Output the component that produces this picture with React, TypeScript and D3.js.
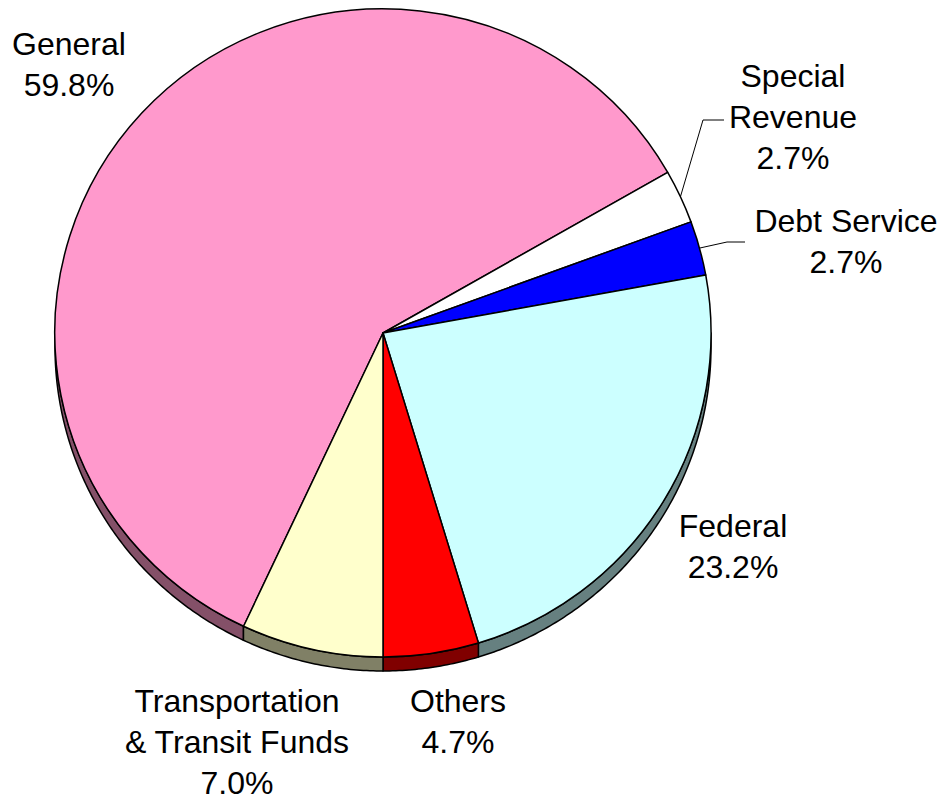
import React, { useRef, useEffect } from 'react';
import * as d3 from 'd3';

// fund shares, in the order they run clockwise from the General slice
const funds = ['General', 'Special Revenue', 'Debt Service', 'Federal', 'Others', 'Transportation & Transit Funds'];
const shares = [59.8, 2.7, 2.7, 23.2, 4.7, 7.0];
const labelLines = [
  ['General', '59.8%'],
  ['Special', 'Revenue', '2.7%'],
  ['Debt Service', '2.7%'],
  ['Federal', '23.2%'],
  ['Others', '4.7%'],
  ['Transportation', '& Transit Funds', '7.0%'],
];
const topColors = ['#FF99CC', '#FFFFFF', '#0000FF', '#CCFFFF', '#FF0000', '#FFFFCC'];
const sideColors = ['#845068', '#808080', '#000080', '#668080', '#800000', '#808066'];

const PieChart3D = () => {
  const svgRef = useRef<SVGSVGElement>(null);

  useEffect(() => {
    const svg = d3.select(svgRef.current);
    svg.selectAll('*').remove();

    const width = 950;
    const height = 799;
    const cx = 383;
    const cy = 333;
    const rx = 328;
    const ry = 324;
    const depth = 14;
    const fontSize = 32;
    const lineH = 41;

    svg.attr('width', width).attr('height', height);

    const total = d3.sum(shares);
    // the last slice (Transportation) ends straight down, so General starts after it
    const start = Math.PI + (2 * Math.PI * shares[shares.length - 1]) / total;
    const pie = d3.pie<number>().sort(null).value(d => d).startAngle(start).endAngle(start + 2 * Math.PI);
    const arcs = pie(shares);

    const px = (t: number) => cx + rx * Math.sin(t);
    const py = (t: number, dy = 0) => cy - ry * Math.cos(t) + dy;

    // side walls (only the front, lower half is visible)
    const sides = svg.append('g');
    arcs.forEach((a, i) => {
      for (let k = 0; k < 2; k++) {
        const lo = Math.max(a.startAngle, Math.PI / 2 + 2 * Math.PI * k);
        const hi = Math.min(a.endAngle, (3 * Math.PI) / 2 + 2 * Math.PI * k);
        if (hi <= lo) continue;
        const n = Math.max(2, Math.ceil((hi - lo) / 0.01));
        const ts = d3.range(n + 1).map(j => lo + ((hi - lo) * j) / n);
        const p = d3.path();
        ts.forEach((t, j) => (j === 0 ? p.moveTo(px(t), py(t)) : p.lineTo(px(t), py(t))));
        ts.slice().reverse().forEach(t => p.lineTo(px(t), py(t, depth)));
        p.closePath();
        sides.append('path')
          .attr('d', p.toString())
          .attr('fill', sideColors[i])
          .attr('stroke', '#000')
          .attr('stroke-width', 1.5)
          .attr('stroke-linejoin', 'round');
      }
    });

    // top faces
    const arc = d3.arc<d3.PieArcDatum<number>>().innerRadius(0).outerRadius(1);
    svg.append('g')
      .attr('transform', `translate(${cx},${cy}) scale(${rx},${ry})`)
      .selectAll('path')
      .data(arcs)
      .join('path')
      .attr('d', d => arc(d))
      .attr('fill', (d, i) => topColors[i])
      .attr('stroke', '#000')
      .attr('stroke-width', 1.5)
      .attr('stroke-linejoin', 'round')
      .attr('vector-effect', 'non-scaling-stroke');

    // labels
    const labelPos = [
      { x: 69, y: 55 },
      { x: 793, y: 87 },
      { x: 846, y: 232 },
      { x: 733, y: 537 },
      { x: 458, y: 712 },
      { x: 237, y: 712 },
    ];
    // leader lines for the two thin slices
    const leaders = [
      null,
      { bend: [703, 120], end: [724, 120] },
      { bend: [727, 242], end: [745, 242] },
      null,
      null,
      null,
    ];
    arcs.forEach((a, i) => {
      const L = leaders[i];
      if (!L) return;
      const mid = (a.startAngle + a.endAngle) / 2;
      svg.append('path')
        .attr('d', d3.line()([[px(mid), py(mid)], L.bend as [number, number], L.end as [number, number]]))
        .attr('fill', 'none')
        .attr('stroke', '#000')
        .attr('stroke-width', 1);
    });

    const labels = svg.append('g')
      .attr('font-family', 'Arial, "Liberation Sans", sans-serif')
      .attr('font-size', fontSize)
      .attr('fill', '#000')
      .attr('text-anchor', 'middle');
    funds.forEach((f, i) => {
      const t = labels.append('text').attr('x', labelPos[i].x).attr('y', labelPos[i].y);
      labelLines[i].forEach((line, j) => {
        t.append('tspan').attr('x', labelPos[i].x).attr('y', labelPos[i].y + j * lineH).text(line);
      });
    });
  }, []);

  return <svg ref={svgRef} style={{ position: 'absolute', left: 0, top: 0 }}></svg>;
};

export default function App() {
  return <PieChart3D />;
}
